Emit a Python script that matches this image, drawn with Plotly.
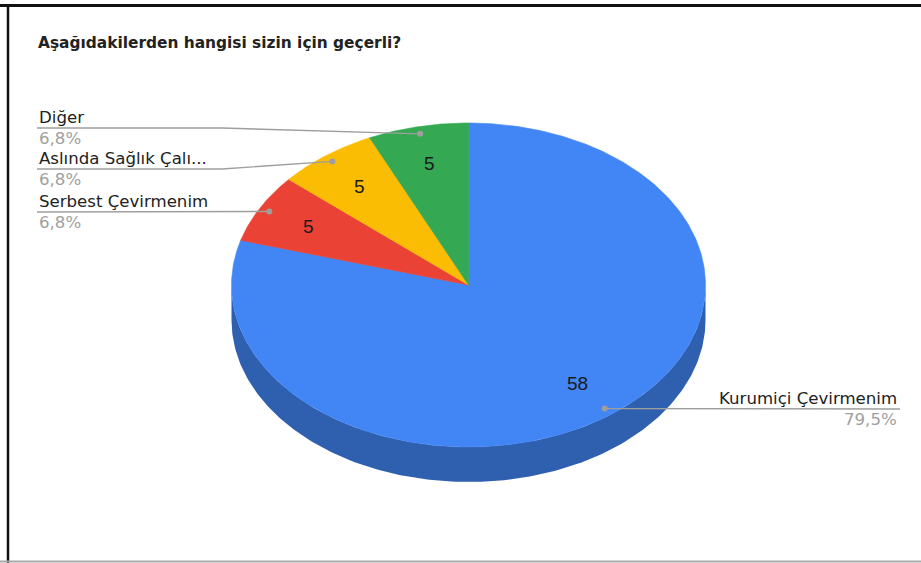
import numpy as np
import plotly.graph_objects as go

# ---- data ----
title = "Aşağıdakilerden hangisi sizin için geçerli?"
labels = ["Kurumiçi Çevirmenim", "Serbest Çevirmenim", "Aslında Sağlık Çalı...", "Diğer"]
values = [58, 5, 5, 5]
colors = ["#4285f4", "#ea4335", "#fbbc04", "#34a853"]
side_color = "#2f5faf"

# ---- geometry of the tilted pie (pixel space) ----
W, H = 921, 563
cx, cy = 468.5, 285.0
rx, ry = 237.0, 162.0
depth = 35.0
LABEL_FONT = "DejaVu Sans, Liberation Sans, sans-serif"
VALUE_FONT = "Liberation Sans, Arial, sans-serif"


def pt(theta_deg, r=1.0, dy=0.0):
    """Point on the ellipse; angle measured clockwise from 12 o'clock."""
    t = np.radians(theta_deg)
    return cx + r * rx * np.sin(t), cy - r * ry * np.cos(t) + dy


def arc(a0, a1, dy=0.0, n=200):
    th = np.linspace(a0, a1, n)
    xs, ys = pt(th, dy=dy)
    return list(xs), list(ys)


fig = go.Figure()

total = float(sum(values))
bounds = np.concatenate([[0.0], np.cumsum(values) / total * 360.0])

# front wall (visible lower half of the rim)
ax_, ay_ = arc(90, 270)
bx_, by_ = arc(270, 90, dy=depth)
fig.add_trace(go.Scatter(x=ax_ + bx_, y=ay_ + by_, mode="lines", fill="toself",
                         fillcolor=side_color, line=dict(width=0),
                         hoverinfo="skip", showlegend=False))

# top face slices
for lab, v, col, a0, a1 in zip(labels, values, colors, bounds[:-1], bounds[1:]):
    xs, ys = arc(a0, a1, n=max(4, int((a1 - a0) * 2)))
    fig.add_trace(go.Scatter(x=[cx] + xs + [cx], y=[cy] + ys + [cy], mode="lines",
                             fill="toself", fillcolor=col,
                             line=dict(width=0.6, color=col),
                             name=lab, showlegend=False, hoverinfo="skip"))

# value labels inside the slices
mids = (bounds[:-1] + bounds[1:]) / 2
for v, m in zip(values, mids):
    x, y = pt(m, r=0.765)
    fig.add_annotation(x=x, y=y, text=str(v), showarrow=False,
                       font=dict(family=VALUE_FONT, size=19, color="#1a1a1a"),
                       xanchor="center", yanchor="middle")

# outside labels with leader lines
# (side, text-anchor x, leader y, elbow x)
label_layout = {
    "Kurumiçi Çevirmenim": ("right", 899, 409, None),
    "Serbest Çevirmenim": ("left", 37, 212, None),
    "Aslında Sağlık Çalı...": ("left", 37, 169, 222),
    "Diğer": ("left", 37, 128, 222),
}
line_col = "#9e9e9e"
for lab, v, m in zip(labels, values, mids):
    side, tx, ly, elbow = label_layout[lab]
    dx, dy = pt(m, r=0.955)
    if side == "left":
        xs = [tx] + ([elbow] if elbow else []) + [dx]
        ys = [ly] + ([ly] if elbow else []) + [dy]
    else:
        xs = [dx, tx + 1]
        ys = [dy, ly]
    fig.add_trace(go.Scatter(x=xs, y=ys, mode="lines",
                             line=dict(color=line_col, width=1.4),
                             hoverinfo="skip", showlegend=False))
    fig.add_trace(go.Scatter(x=[dx], y=[dy], mode="markers",
                             marker=dict(color=line_col, size=6),
                             hoverinfo="skip", showlegend=False))
    pct = f"{v / total * 100:.1f}".replace(".", ",") + "%"
    fig.add_annotation(x=tx, y=ly - 11, text=lab, showarrow=False,
                       xanchor=side, yanchor="middle",
                       font=dict(family=LABEL_FONT, size=16.6, color="#222222"))
    fig.add_annotation(x=tx, y=ly + 10.5, text=pct, showarrow=False,
                       xanchor=side, yanchor="middle",
                       font=dict(family=LABEL_FONT, size=16.6, color="#a0a0a0"))

# title
fig.add_annotation(x=36, y=43, text=f"<b>{title}</b>", showarrow=False,
                   xanchor="left", yanchor="middle",
                   font=dict(family=LABEL_FONT, size=15.4, color="#222222"))

# frame lines
fig.add_shape(type="line", x0=0, x1=W, y0=5.5, y1=5.5, xref="x", yref="y",
              line=dict(color="#111111", width=3))
fig.add_shape(type="line", x0=8, x1=8, y0=4, y1=H, xref="x", yref="y",
              line=dict(color="#111111", width=2.5))
fig.add_shape(type="line", x0=0, x1=W, y0=561.5, y1=561.5, xref="x", yref="y",
              line=dict(color="#aaaaaa", width=2))

fig.update_layout(
    width=W, height=H,
    margin=dict(l=0, r=0, t=0, b=0),
    paper_bgcolor="white", plot_bgcolor="white",
    xaxis=dict(range=[0, W], visible=False, fixedrange=True),
    yaxis=dict(range=[H, 0], visible=False, fixedrange=True),
    showlegend=False,
)

fig.write_html("out.html")
